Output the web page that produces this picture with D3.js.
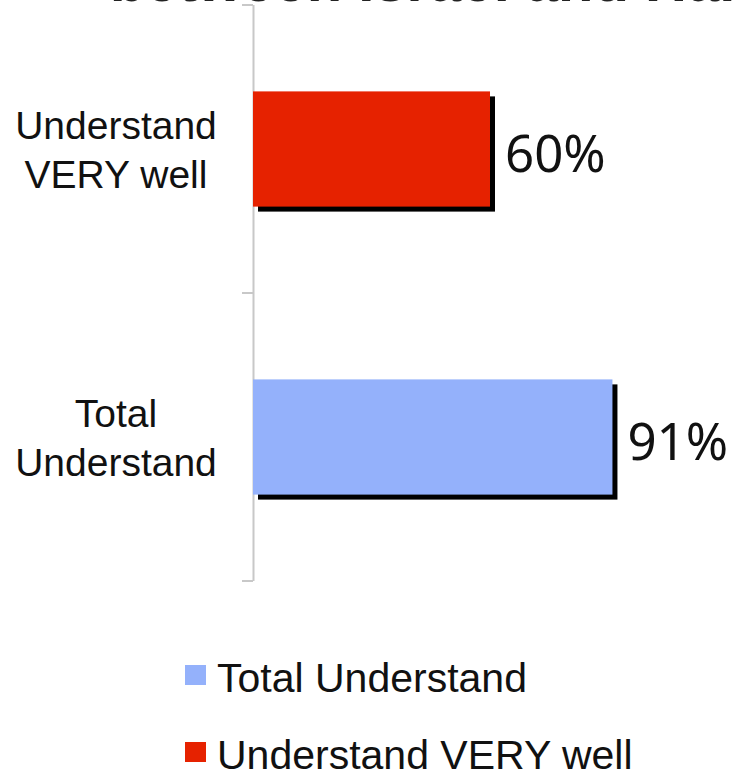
<!DOCTYPE html>
<html>
  <head>
    <meta charset="utf-8">
    <title>Understanding</title>
    <script src="https://d3js.org/d3.v7.min.js"></script>
    <style>
      body { margin: 0; background: #fff; }
      svg text { font-family: "Liberation Sans", Arial, sans-serif; }
    </style>
  </head>
  <body>
    <div id="chart"></div>
    <script>
      // data
      var categories = ["Understand VERY well", "Total Understand"];
      var catLines = [["Understand", "VERY well"], ["Total", "Understand"]];
      var values = [60, 91];
      var colors = ["#e62200", "#94b1fb"];
      var legendOrder = [1, 0];
      var titleText = "between Israel and Hamas";

      var width = 737, height = 773;
      var svg = d3.select("#chart").append("svg")
        .attr("width", width)
        .attr("height", height);

      // cut off title at the top
      svg.append("text")
        .attr("x", 110)
        .attr("y", 1)
        .style("font-size", "58px")
        .style("font-weight", "bold")
        .style("fill", "#222")
        .text(titleText);

      var x = d3.scaleLinear().domain([0, 100]).range([253, 648]);
      var y = d3.scaleBand().domain(categories).range([5, 581]).paddingInner(0.6).paddingOuter(0.3);

      // axis line + ticks between categories
      var axisG = svg.append("g");
      axisG.append("line")
        .attr("x1", 253.5).attr("x2", 253.5)
        .attr("y1", 5).attr("y2", 581)
        .style("stroke", "#c8c8c8").style("stroke-width", 2);
      var tickY = [5, 293, 581];
      axisG.selectAll(".tick").data(tickY).enter().append("line")
        .attr("x1", 242).attr("x2", 253)
        .attr("y1", function(d) { return d; })
        .attr("y2", function(d) { return d; })
        .style("stroke", "#c8c8c8").style("stroke-width", 2);

      // shadows then bars
      var bars = svg.selectAll(".bar").data(categories).enter().append("g");
      bars.append("rect")
        .attr("x", x(0) + 5)
        .attr("y", function(d) { return y(d) + 5; })
        .attr("width", function(d, i) { return x(values[i]) - x(0); })
        .attr("height", y.bandwidth())
        .style("fill", "#000");
      bars.append("rect")
        .attr("x", x(0))
        .attr("y", function(d) { return y(d); })
        .attr("width", function(d, i) { return x(values[i]) - x(0); })
        .attr("height", y.bandwidth())
        .style("fill", function(d, i) { return colors[i]; });

      // value labels
      bars.append("text")
        .attr("x", function(d, i) { return x(values[i]) + 15; })
        .attr("y", function(d) { return y(d) + y.bandwidth() / 2 + 23; })
        .style("font-family", "'Noto Sans', 'Open Sans', sans-serif")
        .style("font-size", "51px")
        .style("fill", "#111")
        .text(function(d, i) { return values[i] + "%"; });

      // category labels
      bars.each(function(d, i) {
        var t = d3.select(this).append("text")
          .attr("text-anchor", "middle")
          .style("font-size", "39px")
          .style("fill", "#111");
        catLines[i].forEach(function(line, j) {
          t.append("tspan")
            .attr("x", 116)
            .attr("y", y(d) + y.bandwidth() / 2 - 10 + j * 49)
            .text(line);
        });
      });

      // legend
      var legend = svg.selectAll(".legend").data(legendOrder).enter().append("g")
        .attr("transform", function(d, i) { return "translate(185," + (665 + i * 77) + ")"; });
      legend.append("rect")
        .attr("width", 21).attr("height", 20)
        .style("fill", function(d) { return colors[d]; });
      legend.append("text")
        .attr("x", 32)
        .attr("y", 27)
        .style("font-size", "41px")
        .style("fill", "#111")
        .text(function(d) { return categories[d]; });
    </script>
  </body>
</html>
